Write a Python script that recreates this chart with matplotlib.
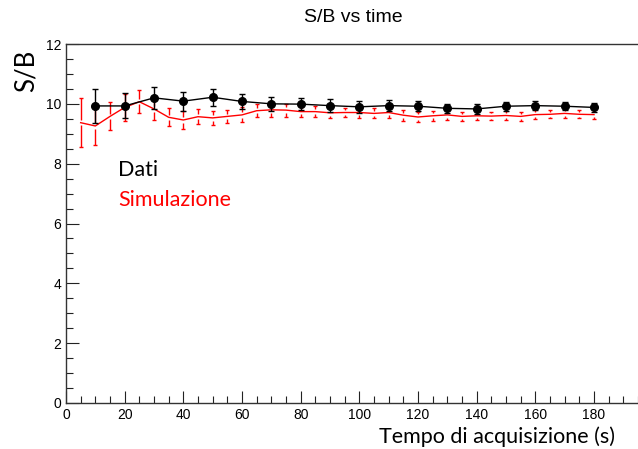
import numpy as np
import matplotlib.pyplot as plt
from matplotlib.ticker import MultipleLocator

# Measured S/B (data), one point every 10 s
t_dati = [10, 20, 30, 40, 50, 60, 70, 80, 90, 100, 110, 120, 130, 140, 150, 160, 170, 180]
sb_dati = [9.93, 9.93, 10.20, 10.09, 10.22, 10.08, 10.00, 9.99, 9.94, 9.90,
           9.94, 9.92, 9.85, 9.83, 9.92, 9.94, 9.92, 9.88]
err_dati = [0.58, 0.42, 0.36, 0.32, 0.29, 0.26, 0.23, 0.21, 0.21, 0.19,
            0.18, 0.17, 0.16, 0.16, 0.15, 0.15, 0.14, 0.14]

# Simulated S/B, one point every 5 s
t_sim = [5, 10, 15, 20, 25, 30, 35, 40, 45, 50, 55, 60, 65, 70, 75, 80, 85, 90,
         95, 100, 105, 110, 115, 120, 125, 130, 135, 140, 145, 150, 155, 160, 165,
         170, 175, 180]
sb_sim = [9.37, 9.26, 9.58, 9.88, 10.07, 9.83, 9.55, 9.46, 9.57, 9.53, 9.58, 9.63,
          9.77, 9.80, 9.79, 9.74, 9.74, 9.70, 9.71, 9.71, 9.68, 9.71, 9.62, 9.56,
          9.60, 9.63, 9.58, 9.60, 9.59, 9.61, 9.58, 9.64, 9.65, 9.68, 9.65, 9.64]
err_sim = [0.81, 0.62, 0.47, 0.45, 0.38, 0.36, 0.30, 0.30, 0.26, 0.24, 0.23, 0.25,
           0.22, 0.23, 0.22, 0.17, 0.19, 0.18, 0.16, 0.17, 0.17, 0.17, 0.18, 0.16,
           0.16, 0.16, 0.14, 0.15, 0.14, 0.15, 0.14, 0.15, 0.14, 0.15, 0.14, 0.14]


def root_errors(ax, x, y, e, color, gap, capw):
    # ROOT style error bars: the bar is interrupted around the point
    x = np.asarray(x, float)
    y = np.asarray(y, float)
    e = np.asarray(e, float)
    g = np.minimum(gap, e)
    ax.vlines(x, y - e, y - g, color=color, lw=1.0, zorder=3)
    ax.vlines(x, y + g, y + e, color=color, lw=1.0, zorder=3)
    ax.plot(x, y - e, ls='none', marker='_', ms=capw, mew=1.0, color=color, zorder=3)
    ax.plot(x, y + e, ls='none', marker='_', ms=capw, mew=1.0, color=color, zorder=3)


fig = plt.figure(figsize=(6.38, 4.49), dpi=100)
ax = fig.add_axes([66 / 638, 46 / 449, 572 / 638, 359 / 449])

# simulation
ax.plot(t_sim, sb_sim, color='red', lw=1.0, zorder=2)
root_errors(ax, t_sim, sb_sim, err_sim, 'red', 0.09, 3.5)

# data
ax.plot(t_dati, sb_dati, color='black', lw=1.0, zorder=4)
root_errors(ax, t_dati, sb_dati, err_dati, 'black', 0.0, 4)
ax.plot(t_dati, sb_dati, ls='none', marker='o', ms=5.5, color='black', zorder=5)

ax.set_xlim(0, 195)
ax.set_ylim(0, 12)
ax.xaxis.set_major_locator(MultipleLocator(20))
ax.xaxis.set_minor_locator(MultipleLocator(5))
ax.yaxis.set_major_locator(MultipleLocator(2))
ax.yaxis.set_minor_locator(MultipleLocator(0.5))
ax.tick_params(which='both', direction='in', top=False, right=False,
               labelsize=10, colors='#222222', labelcolor='black')
ax.tick_params(which='major', length=9, width=0.8)
ax.tick_params(which='minor', length=5, width=0.8)
for lab in ax.get_xticklabels() + ax.get_yticklabels():
    lab.set_family('Liberation Sans')
ax.spines['right'].set_visible(False)
for s in ('left', 'bottom', 'top'):
    ax.spines[s].set_color('#333333')
    ax.spines[s].set_linewidth(1.0)

fig.text(0.553, 0.962, 'S/B vs time', ha='center', va='center',
         fontsize=14, family='Liberation Sans')
fig.text(26 / 638, 1 - 71 / 449, 'S/B', rotation=90, ha='center', va='center',
         fontsize=18.5, family='Lato')
fig.text(615 / 638, 1 - 437 / 449, 'Tempo di acquisizione (s)', ha='right',
         va='center', fontsize=15.5, family='Lato')
fig.text(118 / 638, 1 - 170 / 449, 'Dati', ha='left', va='center',
         fontsize=15.5, family='Lato', color='black')
fig.text(118 / 638, 1 - 200 / 449, 'Simulazione', ha='left', va='center',
         fontsize=15.5, family='Lato', color='red')

fig.savefig('out.png', dpi=100)
